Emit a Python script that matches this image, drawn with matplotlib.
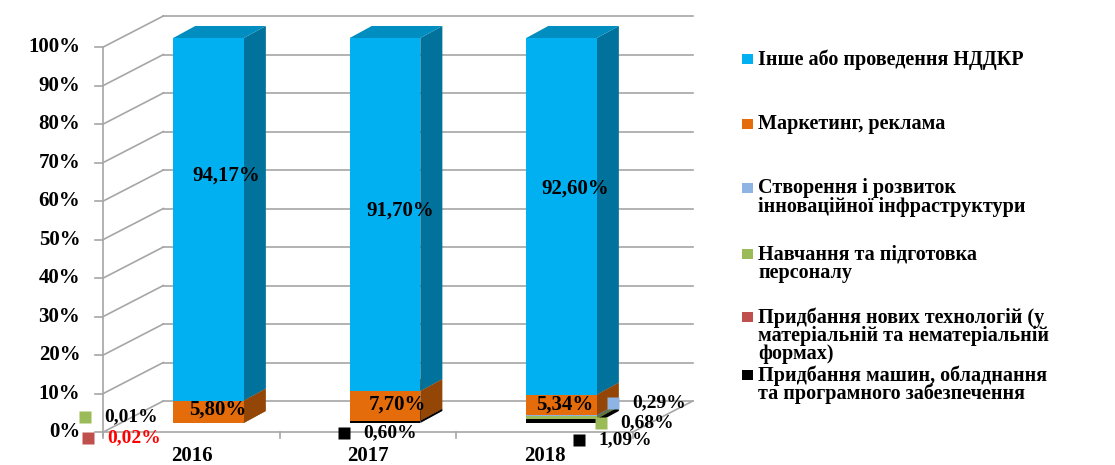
import numpy as np
import matplotlib
matplotlib.use('Agg')
import matplotlib.pyplot as plt
from matplotlib.patches import Polygon, Rectangle

plt.rcParams['font.family'] = ['Liberation Serif', 'DejaVu Serif']
plt.rcParams['font.weight'] = 'bold'

years = ['2016', '2017', '2018']

# stacked from the bottom up
machines = [0.00, 0.60, 1.09]
new_tech = [0.02, 0.00, 0.00]
training = [0.01, 0.00, 0.68]
infrastructure = [0.00, 0.00, 0.29]
marketing = [5.80, 7.70, 5.34]
other = [94.17, 91.70, 92.60]

names = [
    'Придбання машин, обладнання\nта програмного забезпечення',
    'Придбання нових технологій (у\nматеріальній та нематеріальній\nформах)',
    'Навчання та підготовка\nперсоналу',
    'Створення і розвиток\nінноваційної інфраструктури',
    'Маркетинг, реклама',
    'Інше або проведення НДДКР',
]
colors = ['#000000', '#C0504D', '#9BBB59', '#8DB4E2', '#E46C0A', '#00B0F0']
series = [machines, new_tech, training, infrastructure, marketing, other]

yticks = np.arange(0, 101, 10)

# label placement (data coords): inside labels and callouts with a key square
inside_pos = {
    5: [(0.10, 64.2), (1.085, 55.1), (2.076, 60.8)],
    4: [(0.05, 3.4), (1.068, 4.9), (2.02, 4.7)],
}
callouts = [  # (series, year, key x, key y)
    (2, 0, -0.700, 1.6),
    (1, 0, -0.683, -3.9),
    (0, 1, 0.768, -2.6),
    (3, 2, 2.292, 5.2),
    (2, 2, 2.224, 0.0),
    (0, 2, 2.099, -4.3),
]

# oblique projection offsets
FX, FY = -0.096, -2.34   # front plane relative to bar plane
BX, BY = 0.244, 5.71     # back wall relative to bar plane
DX, DY = 0.125, 3.12     # bar depth
W = 0.40
GRID = '#A6A6A6'


def shade(c, f):
    r, g, b = matplotlib.colors.to_rgb(c)
    return (r * f, g * f, b * f)


def box(ax, x0, x1, y0, y1, c):
    ax.add_patch(Polygon([(x1, y0), (x1 + DX, y0 + DY), (x1 + DX, y1 + DY), (x1, y1)],
                         closed=True, fc=shade(c, 0.65), ec='none', zorder=3))
    ax.add_patch(Polygon([(x0, y1), (x1, y1), (x1 + DX, y1 + DY), (x0 + DX, y1 + DY)],
                         closed=True, fc=shade(c, 0.8), ec='none', zorder=3))
    ax.add_patch(Polygon([(x0, y0), (x1, y0), (x1, y1), (x0, y1)],
                         closed=True, fc=c, ec='none', zorder=3))


def fmt(v):
    return '{:.2f}%'.format(v).replace('.', ',')


def main():
    fig = plt.figure(figsize=(11.15, 4.65), dpi=100)
    ax = fig.add_axes([0, 0, 1, 1])
    ax.set_xlim(-1.1813, 5.136)
    ax.set_ylim(-10.91, 109.87)
    ax.axis('off')

    left, right = -0.5, len(years) - 0.5
    # walls and gridlines
    for v in yticks:
        ax.plot([left + BX, right + BX], [v + BY, v + BY], color=GRID, lw=1.2, zorder=1)
        ax.plot([left + FX, left + BX], [v + FY, v + BY], color=GRID, lw=1.2, zorder=1)
        ax.plot([left + FX - 0.045, left + FX], [v + FY, v + FY], color=GRID, lw=1.2, zorder=1)
        ax.text(left + FX - 0.13, v + FY, '{}%'.format(v), ha='right', va='center',
                fontsize=15)
    ax.plot([left + FX, left + FX], [FY - 1.0, 100 + FY], color=GRID, lw=1.2, zorder=1)
    ax.plot([left + FX, right + FX], [FY, FY], color=GRID, lw=1.2, zorder=1)
    ax.plot([right + FX, right + BX], [FY, BY], color=GRID, lw=1.2, zorder=1)
    for b in np.arange(left, right + 0.1, 1.0):
        ax.plot([b + FX, b + FX], [FY, FY - 1.6], color=GRID, lw=1.2, zorder=1)
    for i, yr in enumerate(years):
        ax.text(i + FX, FY - 6.2, yr, ha='center', va='center', fontsize=15)

    # bars
    for i in range(len(years)):
        base = 0.0
        for s, vals in enumerate(series):
            v = vals[i]
            if v <= 0:
                continue
            box(ax, i - W / 2, i + W / 2, base, base + v, colors[s])
            base += v

    # labels
    for s, pos in inside_pos.items():
        for i, (x, y) in enumerate(pos):
            ax.text(x, y, fmt(series[s][i]), ha='center', va='center',
                    fontsize=15, zorder=6)
    for s, i, x, y in callouts:
        ax.plot(x, y, marker='s', ms=8, color=colors[s], mec='none', zorder=6)
        tc = 'red' if s == 1 else 'black'
        ax.text(x + 0.108, y, fmt(series[s][i]), ha='left', va='center',
                fontsize=14, color=tc, zorder=6)

    # legend
    W_PX, H_PX = 1115.0, 465.0
    rows = [59, 124, 188, 254, 317, 375]
    for k, s in enumerate(range(len(series) - 1, -1, -1)):
        y = rows[k]
        fig.add_artist(Rectangle((742 / W_PX, 1 - (y + 5) / H_PX), 11 / W_PX, 10 / H_PX,
                                 transform=fig.transFigure, fc=colors[s], ec='none'))
        fig.text(758 / W_PX, 1 - (y - 10) / H_PX, names[s], ha='left', va='top',
                 fontsize=14.5, linespacing=0.9)

    fig.savefig('out.png', dpi=100)


if __name__ == '__main__':
    main()
